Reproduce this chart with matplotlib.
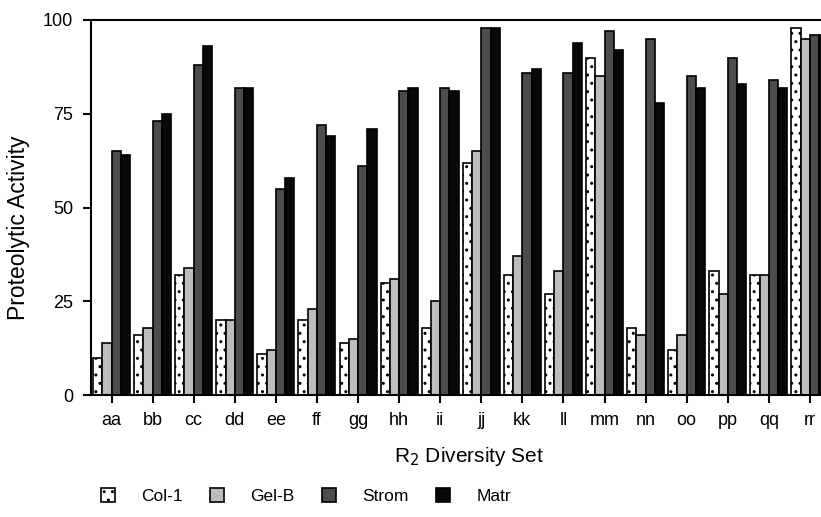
import matplotlib
matplotlib.use("Agg")
import matplotlib.pyplot as plt
import numpy as np

# diversity sets and activity per substrate
sets = ["aa", "bb", "cc", "dd", "ee", "ff", "gg", "hh", "ii",
        "jj", "kk", "ll", "mm", "nn", "oo", "pp", "qq", "rr"]
col1 = [10, 16, 32, 20, 11, 20, 14, 30, 18, 62, 32, 27, 90, 18, 12, 33, 32, 98]
gelb = [14, 18, 34, 20, 12, 23, 15, 31, 25, 65, 37, 33, 85, 16, 16, 27, 32, 95]
strom = [65, 73, 88, 82, 55, 72, 61, 81, 82, 98, 86, 86, 97, 95, 85, 90, 84, 96]
matr = [64, 75, 93, 82, 58, 69, 71, 82, 81, 98, 87, 94, 92, 78, 82, 83, 82, 96]
names = ["Col-1", "Gel-B", "Strom", "Matr"]

plt.rcParams["font.family"] = ["Liberation Sans", "DejaVu Sans"]
plt.rcParams["hatch.color"] = "black"
plt.rcParams["hatch.linewidth"] = 1.0

fig = plt.figure(figsize=(8.21, 5.17), dpi=100)
W, H = 821, 517
ax = fig.add_axes([91 / W, (H - 395) / H, 739.5 / W, 375 / H])

x = np.arange(len(sets))
w = 0.225
styles = [dict(color="white", hatch=".."),
          dict(color="#bdbdbd", hatch=None),
          dict(color="#4c4c4c", hatch=None),
          dict(color="#080808", hatch=None)]
series = [col1, gelb, strom, matr]
for i, (vals, st, nm) in enumerate(zip(series, styles, names)):
    ax.bar(x + (i - 1.5) * w, vals, w, color=st["color"], hatch=st["hatch"],
           edgecolor="black", linewidth=1.2, label=nm)

ax.set_xlim(-0.5, 17.5)
ax.set_ylim(0, 100)
ax.set_yticks([0, 25, 50, 75, 100])
ax.set_xticks(x)
ax.set_xticklabels(sets)
ax.tick_params(axis="y", direction="out", length=6, width=1.5, labelsize=13, pad=7)
ax.tick_params(axis="x", direction="out", length=6, width=1.5, labelsize=13, pad=6)
for s in ["left", "top", "bottom"]:
    ax.spines[s].set_linewidth(1.5)
ax.spines["right"].set_visible(False)

ax.set_xlabel("R$_2$ Diversity Set", fontsize=15)
ax.xaxis.set_label_coords((469 - 91) / 739.5, (395 - 445) / 375)
ax.set_ylabel("Proteolytic Activity", fontsize=16.5)
ax.yaxis.set_label_coords((30 - 91) / 739.5, (395 - 228) / 375)

fig.legend(loc="center left", bbox_to_anchor=(94 / W, (H - 496) / H), ncol=4,
           frameon=False, fontsize=12.5, handlelength=0.8, handleheight=0.85,
           handletextpad=1.5, columnspacing=1.6, borderaxespad=0)

fig.savefig("out.png", dpi=100)
